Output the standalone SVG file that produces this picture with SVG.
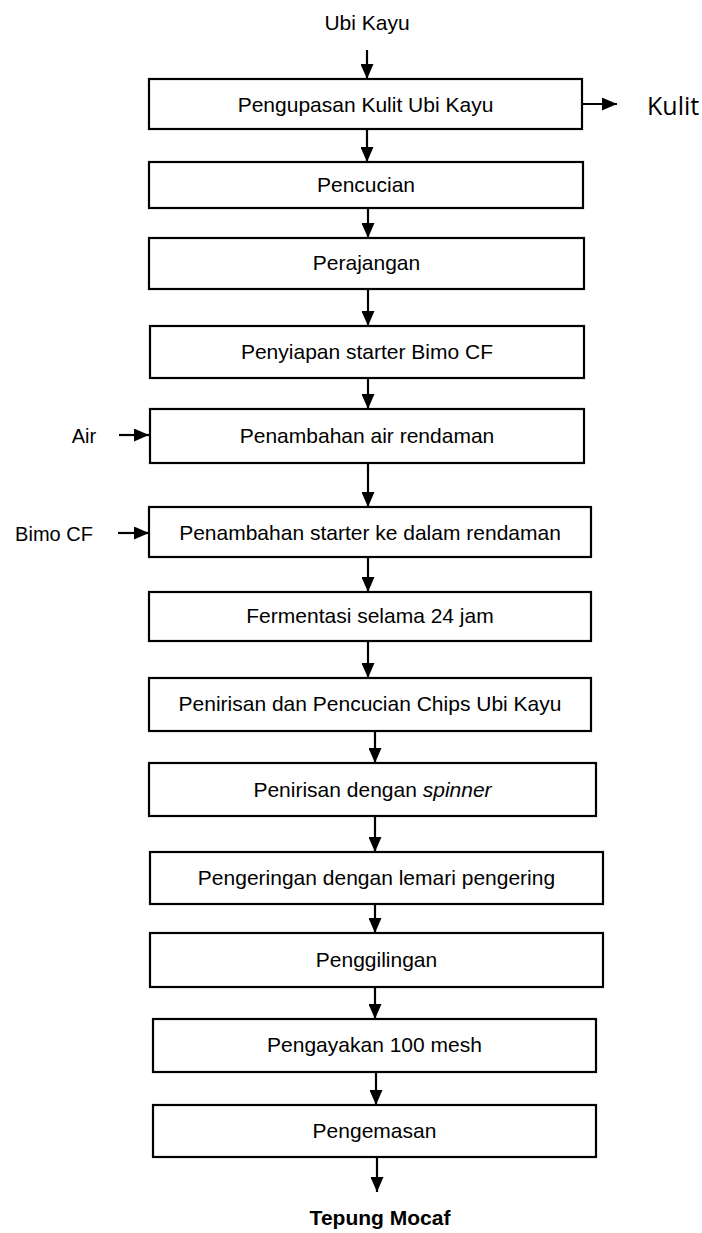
<svg xmlns="http://www.w3.org/2000/svg" width="702" height="1233" viewBox="0 0 702 1233">
  <defs>
    <marker id="arrowhead" markerUnits="userSpaceOnUse" markerWidth="15" markerHeight="13" refX="15" refY="6.5" orient="auto">
      <path d="M0,0 L15,6.5 L0,13 z" fill="#000"/>
    </marker>
    <style>
      .box { fill: #fff; stroke: #000; stroke-width: 2.2; }
      .lbl { font-family: "Liberation Sans", Arial, sans-serif; font-size: 21px; fill: #000; text-anchor: middle; }
      .side { font-family: "Liberation Sans", Arial, sans-serif; font-size: 20px; fill: #000; text-anchor: middle; }
      .out { font-family: "Open Sans", "Noto Sans", sans-serif; font-size: 25px; fill: #000; }
      .final { font-family: "Liberation Sans", Arial, sans-serif; font-size: 21px; font-weight: bold; fill: #000; text-anchor: middle; }
      .flow { stroke: #000; stroke-width: 2.2; fill: none; marker-end: url(#arrowhead); }
    </style>
  </defs>

  <rect width="702" height="1233" fill="#fff"/>

  <!-- connectors -->
  <g id="connectors">
    <line class="flow" x1="367" y1="50" x2="367" y2="79"/>
    <line class="flow" x1="583" y1="104" x2="617" y2="104"/>
    <line class="flow" x1="367" y1="129" x2="367" y2="162"/>
    <line class="flow" x1="368" y1="208" x2="368" y2="238"/>
    <line class="flow" x1="368" y1="289" x2="368" y2="326"/>
    <line class="flow" x1="368" y1="378" x2="368" y2="409"/>
    <line class="flow" x1="119" y1="435" x2="149" y2="435"/>
    <line class="flow" x1="368" y1="463" x2="368" y2="507"/>
    <line class="flow" x1="118" y1="533" x2="149" y2="533"/>
    <line class="flow" x1="368" y1="557" x2="368" y2="592"/>
    <line class="flow" x1="368" y1="641" x2="368" y2="678"/>
    <line class="flow" x1="375" y1="731" x2="375" y2="763"/>
    <line class="flow" x1="375" y1="816" x2="375" y2="852"/>
    <line class="flow" x1="375" y1="904" x2="375" y2="933"/>
    <line class="flow" x1="375" y1="987" x2="375" y2="1019"/>
    <line class="flow" x1="376" y1="1072" x2="376" y2="1105"/>
    <line class="flow" x1="377" y1="1157" x2="377" y2="1192"/>
  </g>

  <!-- inputs and outputs -->
  <g id="input-ubi-kayu"><text class="lbl" x="367" y="30">Ubi Kayu</text></g>
  <g id="output-kulit"><text class="out" x="647" y="115">Kulit</text></g>
  <g id="input-air"><text class="side" x="84" y="443">Air</text></g>
  <g id="input-bimo-cf"><text class="side" x="54" y="541">Bimo CF</text></g>
  <g id="output-tepung-mocaf"><text class="final" x="380" y="1225">Tepung Mocaf</text></g>

  <!-- process steps -->
  <g id="step-pengupasan">
    <rect class="box" x="149" y="79" width="433" height="50"/>
    <text class="lbl" x="365.5" y="112">Pengupasan Kulit Ubi Kayu</text>
  </g>
  <g id="step-pencucian">
    <rect class="box" x="149" y="162" width="434" height="46"/>
    <text class="lbl" x="366" y="192">Pencucian</text>
  </g>
  <g id="step-perajangan">
    <rect class="box" x="149" y="238" width="435" height="51"/>
    <text class="lbl" x="366.5" y="270">Perajangan</text>
  </g>
  <g id="step-penyiapan">
    <rect class="box" x="150" y="326" width="434" height="52"/>
    <text class="lbl" x="367" y="359">Penyiapan starter Bimo CF</text>
  </g>
  <g id="step-air-rendaman">
    <rect class="box" x="150" y="409" width="434" height="54"/>
    <text class="lbl" x="367" y="443">Penambahan air rendaman</text>
  </g>
  <g id="step-starter">
    <rect class="box" x="149" y="507" width="442" height="50"/>
    <text class="lbl" x="370" y="540">Penambahan starter ke dalam rendaman</text>
  </g>
  <g id="step-fermentasi">
    <rect class="box" x="149" y="592" width="442" height="49"/>
    <text class="lbl" x="370" y="623">Fermentasi selama 24 jam</text>
  </g>
  <g id="step-penirisan-pencucian">
    <rect class="box" x="149" y="678" width="442" height="53"/>
    <text class="lbl" x="370" y="711">Penirisan dan Pencucian Chips Ubi Kayu</text>
  </g>
  <g id="step-spinner">
    <rect class="box" x="149" y="763" width="447" height="53"/>
    <text class="lbl" x="372.5" y="797">Penirisan dengan <tspan font-style="italic">spinner</tspan></text>
  </g>
  <g id="step-pengeringan">
    <rect class="box" x="150" y="852" width="453" height="52"/>
    <text class="lbl" x="376.5" y="885">Pengeringan dengan lemari pengering</text>
  </g>
  <g id="step-penggilingan">
    <rect class="box" x="150" y="933" width="453" height="54"/>
    <text class="lbl" x="376.5" y="967">Penggilingan</text>
  </g>
  <g id="step-pengayakan">
    <rect class="box" x="153" y="1019" width="443" height="53"/>
    <text class="lbl" x="374.5" y="1052">Pengayakan 100 mesh</text>
  </g>
  <g id="step-pengemasan">
    <rect class="box" x="153" y="1105" width="443" height="52"/>
    <text class="lbl" x="374.5" y="1138">Pengemasan</text>
  </g>
</svg>
